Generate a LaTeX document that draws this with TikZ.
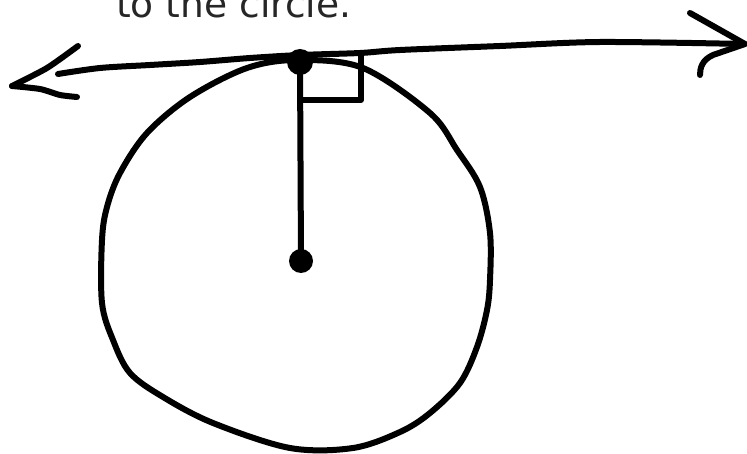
\documentclass[tikz,border=0pt]{standalone}
\usepackage{fontspec}
\setmainfont{DejaVu Sans}
\begin{document}
\begin{tikzpicture}[x=1pt,y=-1pt,line cap=round,line join=round,
  ink/.style={line width=6pt,black},
  dotnode/.style={circle,fill=black,inner sep=0pt,minimum size=#1}]
\useasboundingbox (0,0) rectangle (747,454);
% caption (cut off at the top, as in the reference)
\node[anchor=base west,inner sep=0pt,text=black!85] (cap) at (116,18)
  {\resizebox{235pt}{!}{to the circle.}};
% circle
\draw[ink] plot[smooth cycle,tension=0.55] coordinates {
  (298,60) (363,68) (430,113) (457,150) (480,187) (490,233) (490,280)
  (487,310) (477,347) (460,383) (430,413) (400,432) (353,448) (290,448)
  (213,423) (163,397) (130,373) (113,340) (102,303) (102,240) (107,207)
  (120,173) (147,133) (190,97) (247,68)};
% named points
\node[dotnode=26pt] (T) at (300,62) {};
\node[dotnode=24pt] (O) at (301,261) {};
\coordinate (Ltip) at (12,86);
\coordinate (Rtip) at (745,44);
\coordinate (S1) at (301,100);
\coordinate (S2) at (361,100);
\coordinate (S3) at (361,55);
% tangent line
\draw[ink] plot[smooth,tension=0.5] coordinates {
  (58,74) (100,68) (150,65) (200,62) (250,58) (300,55) (360,53)
  (400,50) (500,46) (600,42) (745,44)};
% left arrowhead
\draw[ink] plot[smooth,tension=0.4] coordinates {(78,46) (47,68) (Ltip)};
\draw[ink] plot[smooth,tension=0.4] coordinates {(Ltip) (40,89) (60,95) (77,97)};
% right arrowhead
\draw[ink] (690,13) -- (Rtip) -- (713,55) .. controls (702,60) and (700,68) .. (700,75);
% radius and right-angle mark
\draw[ink] (T.center) -- (O.center);
\draw[ink] (S1) -- (S2) -- (S3);
\end{tikzpicture}
\end{document}
